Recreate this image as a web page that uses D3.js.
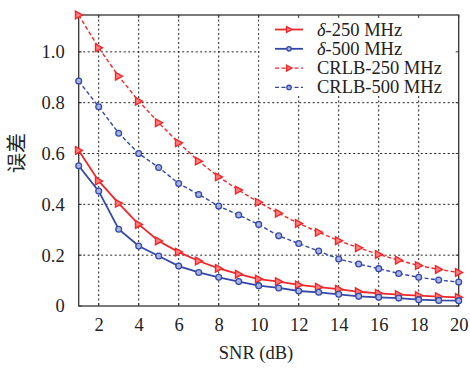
<!DOCTYPE html>
<html><head><meta charset="utf-8">
<script src="https://cdn.jsdelivr.net/npm/d3@7"></script>
<style>body{margin:0;background:#fff}svg{display:block}</style>
</head><body>
<svg id="c" width="470" height="369"></svg>
<script>
const snr = [1,2,3,4,5,6,7,8,9,10,11,12,13,14,15,16,17,18,19,20];
const delta250 = [0.612,0.492,0.404,0.321,0.256,0.212,0.177,0.148,0.125,0.106,0.096,0.083,0.074,0.066,0.056,0.050,0.045,0.041,0.037,0.034];
const delta500 = [0.552,0.452,0.302,0.236,0.197,0.157,0.132,0.113,0.096,0.080,0.071,0.059,0.054,0.046,0.038,0.034,0.031,0.025,0.022,0.021];
const crlb250 = [1.145,1.016,0.904,0.806,0.721,0.642,0.570,0.508,0.456,0.408,0.365,0.325,0.290,0.257,0.229,0.203,0.180,0.159,0.144,0.132];
const crlb500 = [0.885,0.784,0.680,0.600,0.545,0.482,0.439,0.393,0.358,0.321,0.276,0.246,0.216,0.185,0.165,0.147,0.128,0.113,0.102,0.094];
const xTicks = [2,4,6,8,10,12,14,16,18,20];
const yTicks = [0,0.2,0.4,0.6,0.8,1.0];
const yTickLabels = ["0","0.2","0.4","0.6","0.8","1.0"];
const seriesNames = ["δ-250 MHz","δ-500 MHz","CRLB-250 MHz","CRLB-500 MHz"];

const RED = "#f0282a", BLUE = "#3448a8";
const SERIF = '"Liberation Serif"';
const FS = "18.5px";
const series = [
  {name: seriesNames[0], vals: delta250, color: RED, dash: null, mk: "tri"},
  {name: seriesNames[1], vals: delta500, color: BLUE, dash: null, mk: "circ"},
  {name: seriesNames[2], vals: crlb250, color: RED, dash: "4,2.5", mk: "tri"},
  {name: seriesNames[3], vals: crlb500, color: BLUE, dash: "4,2.5", mk: "circ"}
];

const L = 78.7, R = 458.7, T = 15, B = 306;
const x = d3.scaleLinear().domain([1,20]).range([L,R]);
const y = d3.scaleLinear().domain([0,1.145]).range([B,T]);
const svg = d3.select("#c");

// grid
const g = svg.append("g");
g.selectAll(".gx").data(xTicks.filter(d=>d<20)).join("line")
  .attr("x1",d=>x(d)).attr("x2",d=>x(d)).attr("y1",T).attr("y2",B)
  .attr("stroke","#222").attr("stroke-width",1).attr("stroke-dasharray","2,2.5");
g.selectAll(".gy").data(yTicks.filter(d=>d>0)).join("line")
  .attr("x1",L).attr("x2",R).attr("y1",d=>y(d)).attr("y2",d=>y(d))
  .attr("stroke","#222").attr("stroke-width",1).attr("stroke-dasharray","2,2.5");

// legend background (covers grid)
svg.append("rect").attr("x",259.5).attr("y",T).attr("width",R-259.5).attr("height",80).attr("fill","#fff");

// axes
const xAxis = d3.axisBottom(x).tickValues(xTicks).tickSize(0).tickPadding(12).tickFormat(d3.format("d"));
const yAxis = d3.axisLeft(y).tickValues(yTicks).tickSize(0).tickPadding(14).tickFormat((d,i)=>yTickLabels[i]);
const gx = svg.append("g").attr("transform",`translate(0,${B})`).call(xAxis);
const gy = svg.append("g").attr("transform",`translate(${L},0)`).call(yAxis);
[gx,gy].forEach(a=>{a.attr("font-family",null);a.select(".domain").remove();a.selectAll("text").style("font-family",SERIF).style("font-size",FS).attr("fill","#222");});

// inward ticks on all sides
const tk = svg.append("g").attr("stroke","#333").attr("stroke-width",1);
xTicks.forEach(d=>{
  tk.append("line").attr("x1",x(d)).attr("x2",x(d)).attr("y1",B).attr("y2",B-3);
  tk.append("line").attr("x1",x(d)).attr("x2",x(d)).attr("y1",T).attr("y2",T+3);
});
yTicks.forEach(d=>{
  tk.append("line").attr("x1",L).attr("x2",L+3).attr("y1",y(d)).attr("y2",y(d));
  tk.append("line").attr("x1",R).attr("x2",R-3).attr("y1",y(d)).attr("y2",y(d));
});

// frame
svg.append("rect").attr("x",L).attr("y",T).attr("width",R-L).attr("height",B-T)
  .attr("fill","none").attr("stroke","#333").attr("stroke-width",1.3);

// markers
function drawMarker(sel, mk, color, cx, cy, s){
  if(mk==="tri"){
    sel.append("path").attr("d",`M${cx-3.2*s},${cy-3.8*s}L${cx+3.8*s},${cy}L${cx-3.2*s},${cy+3.8*s}Z`)
      .attr("fill","#ff8080").attr("stroke",color).attr("stroke-width",1.4);
  } else {
    sel.append("circle").attr("cx",cx).attr("cy",cy).attr("r",2.9*s)
      .attr("fill","#aab4e0").attr("stroke",color).attr("stroke-width",1.3);
  }
}

const line = d3.line().x((d,i)=>x(snr[i])).y(d=>y(d));
series.forEach(s=>{
  const sg = svg.append("g");
  sg.append("path").attr("d",line(s.vals)).attr("fill","none").attr("stroke",s.color)
    .attr("stroke-width",s.dash?1.4:1.8).attr("stroke-dasharray",s.dash);
  s.vals.forEach((v,i)=>drawMarker(sg,s.mk,s.color,x(snr[i]),y(v),1));
});

// legend
const lx1 = 275, lx2 = 303, ly0 = 29.5, ldy = 19.3;
series.forEach((s,i)=>{
  const ly = ly0 + i*ldy;
  const lg = svg.append("g");
  lg.append("line").attr("x1",lx1).attr("x2",lx2).attr("y1",ly).attr("y2",ly)
    .attr("stroke",s.color).attr("stroke-width",s.dash?1.4:1.8).attr("stroke-dasharray",s.dash);
  drawMarker(lg,s.mk,s.color,(lx1+lx2)/2,ly,0.75);
  const t = lg.append("text").attr("x",317).attr("y",ly+6).style("font-family",SERIF).style("font-size",FS).attr("fill","#222");
  if(s.name.startsWith("δ")){
    t.append("tspan").style("font-style","italic").text("δ");
    t.append("tspan").text(s.name.slice(1));
  } else t.text(s.name);
});

// axis titles
svg.append("text").attr("x",256).attr("y",359).attr("text-anchor","middle")
  .style("font-family",SERIF).style("font-size",FS).attr("fill","#222").text("SNR (dB)");
svg.append("text").attr("transform","translate(24,153) rotate(-90)").attr("text-anchor","middle")
  .style("font-family",'"Noto Sans CJK SC"').style("font-size","20px").attr("fill","#222").text("误差");
</script>
</body></html>
